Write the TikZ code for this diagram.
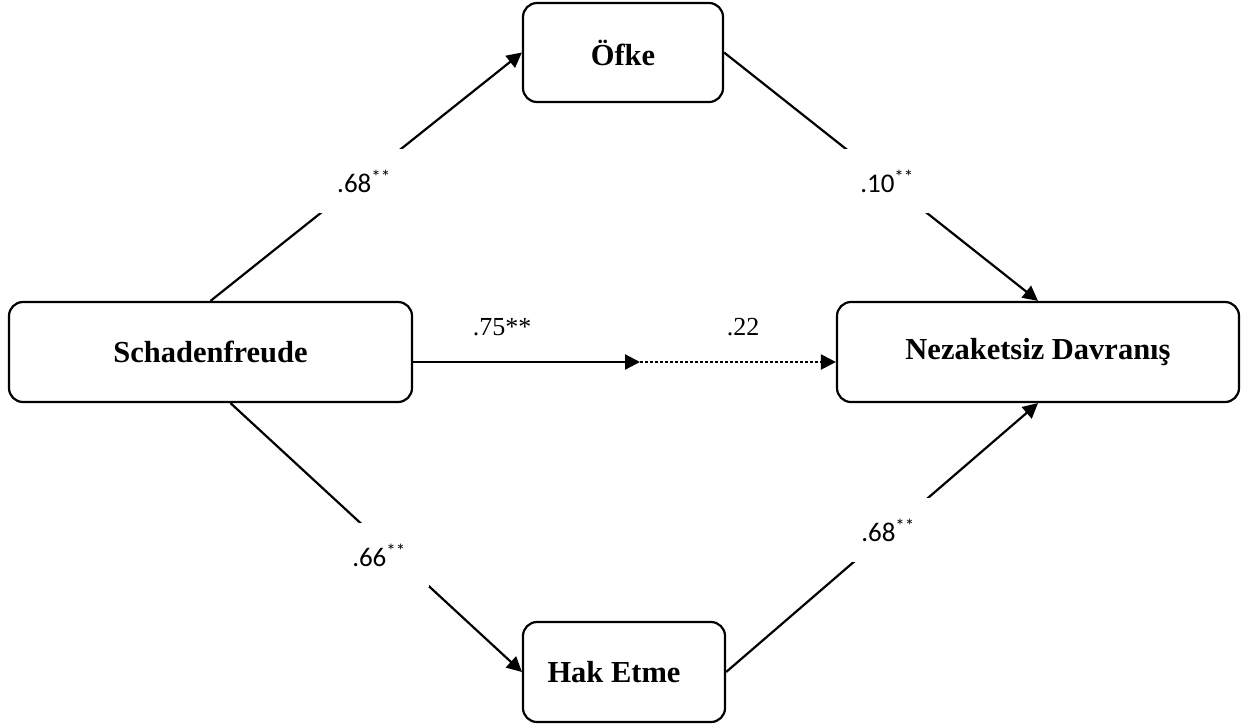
\documentclass[tikz,border=0pt]{standalone}
\usepackage{fontspec}
\setmainfont{Liberation Serif}
\newfontfamily\lblfont{Carlito}
\usetikzlibrary{arrows.meta}
\begin{document}
\begin{tikzpicture}[x=1pt,y=-1pt,
  box/.style={draw, line width=2.2pt, rounded corners=14pt,
    font=\fontsize{30.5}{34}\selectfont\bfseries,
    minimum height=100pt, inner sep=0pt},
  conn/.style={line width=2.2pt, -{Triangle[length=15pt,width=15pt]}},
  dotline/.style={conn, dash pattern=on 2.5pt off 2.5pt},
  lbl/.style={fill=white, inner sep=0pt, minimum width=100pt, minimum height=64pt,
    font=\lblfont\fontsize{27}{30}\selectfont},
  coef/.style={inner sep=0pt, font=\fontsize{26}{30}\selectfont}
]
\useasboundingbox (0,0) rectangle (1241,724);

\node[box, minimum width=403pt] (sch) at (210.5,352) {Schadenfreude};
\node[box, minimum width=402pt] (nez) at (1038,352) {Nezaketsiz Davranış};
\node[box, minimum width=200pt, minimum height=99pt] (ofke) at (623,52.5) {Öfke};
\node[box, minimum width=202pt] (hak) at (624,672) {Hak Etme\hspace*{20pt}};

\coordinate (mid) at (640,362);

\draw[conn] (sch.north) -- (ofke.west);
\draw[conn] (ofke.east) -- (nez.north);
\draw[conn] ([xshift=20pt]sch.south) -- (hak.west);
\draw[conn] (hak.east) -- (nez.south);
\draw[conn] (sch.east |- mid) -- (mid);
\draw[dotline] (mid) -- (nez.west |- mid);

\node[lbl] (l1) at (364,181) {.68\textsuperscript{**}};
\node[lbl] (l2) at (887,181) {.10\textsuperscript{**}};
\node[lbl] (l3) at (379,555) {.66\textsuperscript{**}};
\node[lbl] (l4) at (888,530) {.68\textsuperscript{**}};

\node[coef] (c1) at (502,327) {.75**};
\node[coef] (c2) at (743,327) {.22};
\end{tikzpicture}
\end{document}
